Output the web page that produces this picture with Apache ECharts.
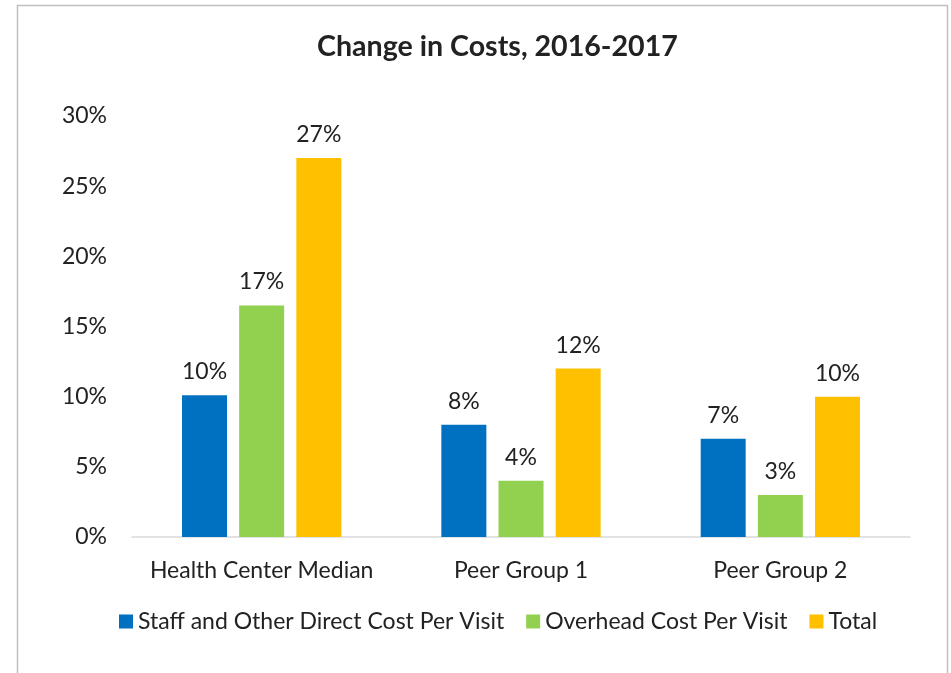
<!DOCTYPE html>
<html>
<head>
<meta charset="utf-8">
<script src="https://cdn.jsdelivr.net/npm/echarts@6/dist/echarts.min.js"></script>
<style>
  html, body { margin: 0; padding: 0; background: #fff; }
  #chart { width: 951px; height: 673px; }
</style>
</head>
<body>
<div id="chart"></div>
<script>
const categories = ['Health Center Median', 'Peer Group 1', 'Peer Group 2'];
const seriesNames = ['Staff and Other Direct Cost Per Visit', 'Overhead Cost Per Visit', 'Total'];
const staffCost = [10.1, 8, 7];
const overheadCost = [16.5, 4, 3];
const totalCost = [27, 12, 10];
const colors = ['#0070C0', '#92D050', '#FFC000'];

const font = 'Lato, "Open Sans", sans-serif';

const chart = echarts.init(document.getElementById('chart'));

const makeSeries = (name, data, color) => ({
    name: name,
    type: 'bar',
    data: data,
    barWidth: 45,
    barGap: '27%',
    itemStyle: { color: color },
    label: {
        show: true,
        position: 'top',
        distance: 12,
        color: '#222',
        fontFamily: font,
        fontSize: 23,
        formatter: p => Math.round(p.value) + '%'
    }
});

chart.setOption({
    animation: false,
    title: {
        text: 'Change in Costs, 2016-2017',
        left: 312,
        top: 27,
        textStyle: { fontFamily: font, fontSize: 28.6, fontWeight: 'bold', color: '#222' }
    },
    graphic: [{
        type: 'rect',
        shape: { x: 17.5, y: 5.5, width: 930, height: 700 },
        style: { fill: 'none', stroke: '#bfbfbf', lineWidth: 1.5 },
        silent: true
    }],
    legend: {
        bottom: 35,
        left: 114,
        itemWidth: 14,
        itemHeight: 14,
        itemGap: 22,
        icon: 'rect',
        textStyle: { fontFamily: font, fontSize: 23, color: '#222' },
        data: seriesNames
    },
    grid: { left: 132, right: 41, top: 116, bottom: 136 },
    xAxis: {
        type: 'category',
        data: categories,
        axisLine: { lineStyle: { color: '#d9d9d9', width: 1.5 } },
        axisTick: { show: false },
        axisLabel: { fontFamily: font, fontSize: 23, color: '#222', margin: 22, interval: 0 }
    },
    yAxis: {
        type: 'value',
        min: 0,
        max: 30,
        interval: 5,
        splitLine: { show: false },
        axisLine: { show: false },
        axisTick: { show: false },
        axisLabel: { fontFamily: font, fontSize: 23, color: '#222', margin: 25, formatter: '{value}%' }
    },
    series: [
        makeSeries(seriesNames[0], staffCost, colors[0]),
        makeSeries(seriesNames[1], overheadCost, colors[1]),
        makeSeries(seriesNames[2], totalCost, colors[2])
    ]
});
</script>
</body>
</html>
